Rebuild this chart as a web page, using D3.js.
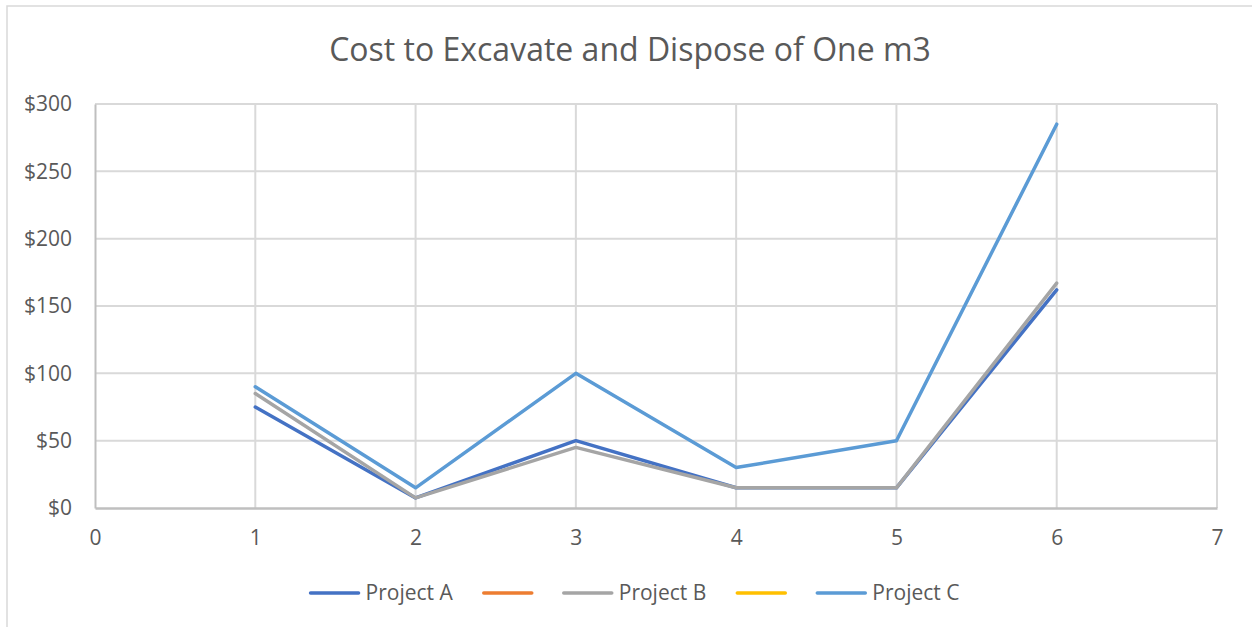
<!DOCTYPE html>
<html><head><meta charset="utf-8">
<script src="https://cdn.jsdelivr.net/npm/d3@7"></script>
<style>html,body{margin:0;padding:0;background:#fff;overflow:hidden}</style>
</head><body>
<script>
const title = "Cost to Excavate and Dispose of One m3";
const xValues = [1, 2, 3, 4, 5, 6];
const xTicks = [0, 1, 2, 3, 4, 5, 6, 7];
const yTicks = [0, 50, 100, 150, 200, 250, 300];
const projectA = [75, 7.5, 50, 15, 15, 162];
const seriesOrange = [];
const projectB = [85, 7.5, 45, 15, 15, 167];
const seriesYellow = [];
const projectC = [90, 15, 100, 30, 50, 285];
const seriesNames = ["Project A", "", "Project B", "", "Project C"];
const seriesColors = ["#4472C4", "#ED7D31", "#A5A5A5", "#FFC000", "#5B9BD5"];
const seriesData = [projectA, seriesOrange, projectB, seriesYellow, projectC];

const W = 1252, H = 627;
const font = "'Open Sans', sans-serif";
const svg = d3.select("body").append("svg").attr("width", W).attr("height", H);

svg.append("rect").attr("x", 7).attr("y", 6).attr("width", W + 10).attr("height", H + 10)
  .attr("fill", "#fff").attr("stroke", "#d9d9d9").attr("stroke-width", 1.5);

const x = d3.scaleLinear().domain([0, 7]).range([95, 1217]);
const y = d3.scaleLinear().domain([0, 300]).range([508, 104]);

// grid
const g = svg.append("g");
g.selectAll(".hg").data(yTicks.filter(d => d > 0)).join("line")
  .attr("x1", x(0)).attr("x2", x(7)).attr("y1", d => y(d)).attr("y2", d => y(d))
  .attr("stroke", "#d9d9d9").attr("stroke-width", 2);
g.selectAll(".vg").data(xTicks.filter(d => d > 0)).join("line")
  .attr("x1", d => x(d)).attr("x2", d => x(d)).attr("y1", y(0)).attr("y2", y(300))
  .attr("stroke", "#d9d9d9").attr("stroke-width", 2);

// axes
const yAxis = d3.axisLeft(y).tickValues(yTicks).tickSize(0).tickPadding(23).tickFormat(d => "$" + d);
const yg = svg.append("g").attr("transform", `translate(${x(0)},0)`).call(yAxis);
yg.select(".domain").attr("stroke", "#bfbfbf").attr("stroke-width", 2);
yg.selectAll("text").attr("font-family", font).attr("font-size", 21).attr("fill", "#595959");

const xAxis = d3.axisBottom(x).tickValues(xTicks).tickSize(0).tickPadding(22).tickFormat(d3.format("d"));
const xg = svg.append("g").attr("transform", `translate(0,${y(0)})`).call(xAxis);
xg.select(".domain").attr("stroke", "#bfbfbf").attr("stroke-width", 2.5);
xg.selectAll("text").attr("font-family", font).attr("font-size", 21).attr("fill", "#595959");

// lines
const line = d3.line().x((d, i) => x(xValues[i])).y(d => y(d));
seriesData.forEach((s, i) => {
  if (!s.length) return;
  svg.append("path").attr("d", line(s)).attr("fill", "none")
    .attr("stroke", seriesColors[i]).attr("stroke-width", 3.5)
    .attr("stroke-linejoin", "round").attr("stroke-linecap", "round");
});

// title
svg.append("text").attr("x", 630).attr("y", 61).attr("text-anchor", "middle")
  .attr("font-family", font).attr("font-size", 32).attr("fill", "#595959").text(title);

// legend
const lg = svg.append("g");
const items = seriesNames.map((n, i) => ({ n, c: seriesColors[i] }));
let cx = 0;
const placed = [];
items.forEach(it => {
  const t = lg.append("text").attr("font-family", font).attr("font-size", 21).attr("fill", "#595959")
    .attr("dominant-baseline", "central").text(it.n);
  const tw = it.n ? t.node().getComputedTextLength() : 0;
  placed.push({ it, t, start: cx, tw });
  cx += 52 + (it.n ? 6 + tw : 0) + 28;
});
const total = cx - 28;
const offset = 634.5 - total / 2;
placed.forEach(p => {
  const sx = offset + p.start;
  lg.append("line").attr("x1", sx + 2).attr("x2", sx + 50).attr("y1", 593).attr("y2", 593)
    .attr("stroke", p.it.c).attr("stroke-width", 3.5).attr("stroke-linecap", "round");
  p.t.attr("x", sx + 57).attr("y", 592);
});
</script>
</body></html>
